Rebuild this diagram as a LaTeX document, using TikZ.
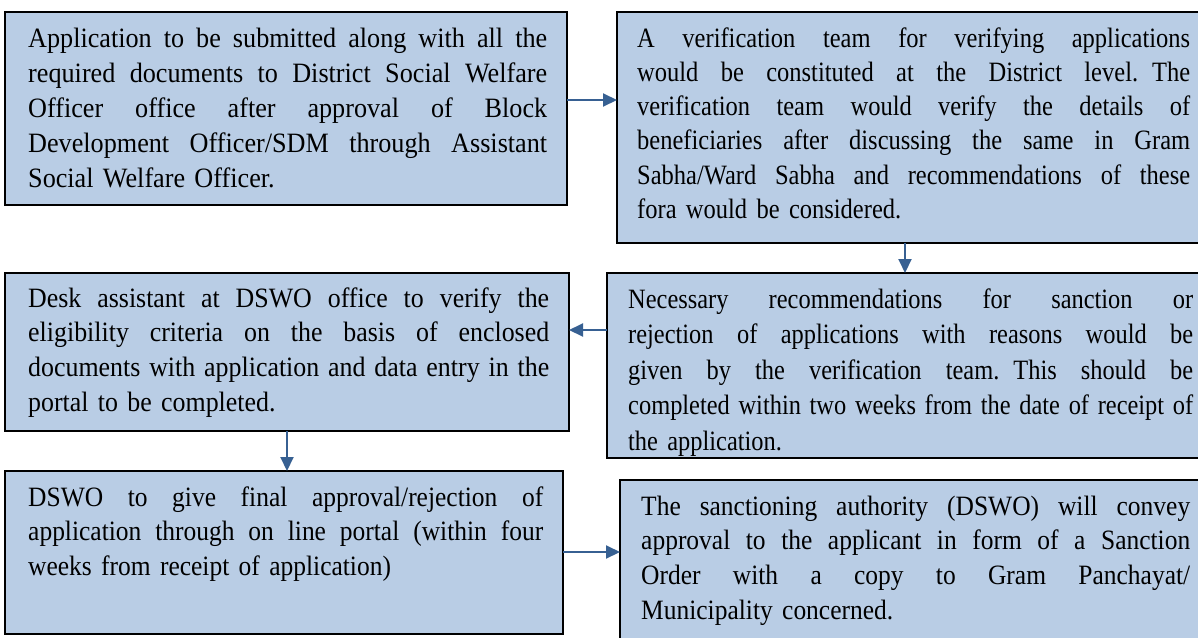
\documentclass[tikz,border=0pt]{standalone}
\usepackage{fontspec}
\setmainfont{Liberation Serif}
\newfontfamily\serifA{Liberation Serif}[FakeStretch=0.935]
\newfontfamily\serifB{Liberation Serif}[FakeStretch=0.875]
\newfontfamily\serifC{Liberation Serif}[FakeStretch=0.872]
\newfontfamily\serifD{Liberation Serif}[FakeStretch=0.925]
\newfontfamily\serifE{Liberation Serif}[FakeStretch=0.91]
\usetikzlibrary{arrows.meta}
\definecolor{boxfill}{RGB}{185,205,229}
\definecolor{flow}{RGB}{55,96,146}
% one fully justified line of a step description
\newcommand\jline[1]{{\spaceskip=0.25em plus 1fil minus 0.1em\relax
  \makebox[\hsize][s]{#1}}\\}

\begin{document}
\begin{tikzpicture}[x=1pt,y=-1pt,
  stepbox/.style={draw=black, line width=1.6pt, fill=boxfill, rectangle,
    inner sep=0pt, outer sep=0pt, anchor=north west},
  txt/.style={inner sep=0pt, anchor=base west, align=left},
  flowarrow/.style={draw=flow, line width=2pt,
    -{Triangle[length=14pt,width=13pt]}}]
\useasboundingbox (0,0) rectangle (1198,637);
\clip (0,0) rectangle (1198,637);
\fill[white] (0,0) rectangle (1198,637);

% step boxes
\node[stepbox, minimum width=562, minimum height=193] (b1) at (5,12) {};
\node[stepbox, minimum width=593, minimum height=231] (b2) at (617,12) {};
\node[stepbox, minimum width=603, minimum height=185] (b3) at (607,273) {};
\node[stepbox, minimum width=564, minimum height=158] (b4) at (5,273) {};
\node[stepbox, minimum width=558, minimum height=163] (b5) at (5,471) {};
\node[stepbox, minimum width=590, minimum height=170] (b6) at (620,480) {};

% step texts
\node[txt, text width=519pt, font=\serifA\fontsize{28}{35}\selectfont] (t1) at (28,47) {%
\jline{Application to be submitted along with all the}
\jline{required documents to District Social Welfare}
\jline{Officer office after approval of Block}
\jline{Development Officer/SDM through Assistant}
Social Welfare Officer.};

\node[txt, text width=553pt, font=\serifB\fontsize{28}{34.3}\selectfont] (t2) at (637,47) {%
\jline{A verification team for verifying applications}
\jline{would be constituted at the District level. The}
\jline{verification team would verify the details of}
\jline{beneficiaries after discussing the same in Gram}
\jline{Sabha/Ward Sabha and recommendations of these}
fora would be considered.};

% the last line of this text runs into the lower border of its box
\begin{scope}
\clip (b3.north west) rectangle ([yshift=3pt]b3.south east);
\node[txt, text width=565pt, font=\serifC\fontsize{28}{35.5}\selectfont] (t3) at (628,308) {%
\jline{Necessary recommendations for sanction or}
\jline{rejection of applications with reasons would be}
\jline{given by the verification team. This should be}
\jline{completed within two weeks from the date of receipt of}
the application.};
\end{scope}

\node[txt, text width=521pt, font=\serifD\fontsize{28}{34.7}\selectfont] (t4) at (28,307) {%
\jline{Desk assistant at DSWO office to verify the}
\jline{eligibility criteria on the basis of enclosed}
\jline{documents with application and data entry in the}
portal to be completed.};

\node[txt, text width=515pt, font=\serifE\fontsize{28}{34.7}\selectfont] (t5) at (28,506) {%
\jline{DSWO to give final approval/rejection of}
\jline{application through on line portal (within four}
weeks from receipt of application)};

\node[txt, text width=549pt, font=\serifE\fontsize{28}{34.7}\selectfont] (t6) at (641,515) {%
\jline{The sanctioning authority (DSWO) will convey}
\jline{approval to the applicant in form of a Sanction}
\jline{Order with a copy to Gram Panchayat/}
Municipality concerned.};

% flow connectors
\coordinate (r1) at (0,100);
\coordinate (c2) at (905,0);
\coordinate (r3) at (0,330);
\coordinate (c4) at (287,0);
\coordinate (r5) at (0,552);
\draw[flowarrow] (b1.east |- r1) -- (b2.west |- r1);
\draw[flowarrow] (b2.south -| c2) -- (b3.north -| c2);
\draw[flowarrow] (b3.west |- r3) -- (b4.east |- r3);
\draw[flowarrow] (b4.south -| c4) -- (b5.north -| c4);
\draw[flowarrow] (b5.east |- r5) -- (b6.west |- r5);
\end{tikzpicture}
\end{document}
